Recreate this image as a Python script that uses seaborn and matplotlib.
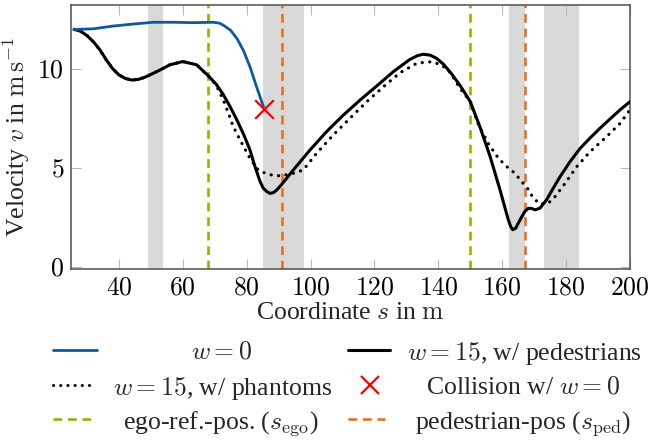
import numpy as np
import pandas as pd
import seaborn as sns
import matplotlib
matplotlib.use("Agg")
import matplotlib.pyplot as plt
from matplotlib.lines import Line2D
from matplotlib.ticker import FuncFormatter

# ---------------- data ----------------
s_w0 = [26, 32, 38.2, 44.5, 50.8, 57, 63.3, 69.6, 71.6, 73, 75, 77, 79, 81, 83.1, 85.4]
v_w0 = [11.97, 12.0, 12.14, 12.24, 12.33, 12.33, 12.31, 12.33, 12.28, 12.15, 11.92, 11.5, 10.9, 10.1, 9.08, 8.0]

s_ped = [26, 28, 30, 32, 34, 36, 38, 40, 42, 44, 46, 48, 51.8, 56, 60, 64.3, 68, 70.5, 72.7, 74.8, 76.9,
         79, 81, 82.6, 84.2, 85.2, 86.3, 87.3, 88.4, 89.4, 91, 94.6, 99.8, 105, 110.3, 115.5,
         120.7, 125.9, 131.1, 133.5, 135.3, 137.5, 139.5, 141.7, 144.2, 147, 150, 153, 156.2,
         159.3, 161.9, 162.7, 163.3, 164.2, 165, 166, 167.1, 168.2, 169.2, 170.3, 171.8, 173.9,
         176, 178.1, 181.2, 184.4, 187.5, 190.6, 193.7, 196.9, 200]
v_ped = [11.97, 11.88, 11.66, 11.35, 10.95, 10.45, 10.0, 9.68, 9.5, 9.42, 9.45, 9.55, 9.84, 10.19, 10.35, 10.19,
         9.63, 9.2, 8.68, 8.08, 7.42, 6.7, 5.91, 5.06, 4.3, 3.97, 3.8, 3.71, 3.75, 3.88, 4.17,
         4.89, 5.89, 6.82, 7.66, 8.41, 9.12, 9.84, 10.46, 10.65, 10.72, 10.67, 10.51, 10.2,
         9.72, 9.1, 8.33, 7.07, 5.57, 3.89, 2.38, 2.02, 1.88, 1.95, 2.2, 2.5, 2.8, 2.96, 2.95,
         2.88, 2.96, 3.39, 3.98, 4.55, 5.3, 5.98, 6.5, 6.99, 7.45, 7.92, 8.33]

s_ph = [26, 28, 30, 32, 34, 36, 38, 40, 42, 44, 46, 48, 51.8, 56, 60, 64.3, 68, 70.5, 72.7, 74.3, 75.8,
        78.5, 81, 83.6, 86.3, 88.9, 91, 94.6, 97.7, 101.9, 107.1, 112.3, 117.6, 122.8, 128,
        133.2, 136.9, 139, 141.6, 143.7, 146.8, 150, 152.5, 155.6, 158.8, 161.4, 164, 166.1,
        167.9, 169.8, 171.8, 174.4, 176.5, 179.7, 183.3, 187.5, 192.7, 196.9, 200]
v_ph = [11.97, 11.88, 11.66, 11.35, 10.95, 10.45, 10.0, 9.68, 9.5, 9.42, 9.45, 9.55, 9.84, 10.19, 10.35, 10.19,
        9.63, 9.15, 8.41, 7.74, 7.07, 6.23, 5.48, 4.89, 4.69, 4.6, 4.6, 4.72, 4.89, 5.73, 6.65,
        7.49, 8.33, 9.08, 9.79, 10.26, 10.34, 10.3, 10.1, 9.8, 9.0, 8.33, 7.2, 6.23, 5.48,
        5.06, 4.72, 4.3, 3.97, 3.46, 3.18, 3.21, 3.54, 4.22, 5.05, 5.81, 6.57, 7.24, 7.92]

collision_s = [85.5]
collision_v = [7.95]

ego_pos = [68, 150]
ped_pos = [91, 167]

span_start = [49.0, 85.0, 162.1, 173.2]
span_end = [53.9, 97.9, 167.1, 184.1]

x_ticks = [40, 60, 80, 100, 120, 140, 160, 180, 200]
y_ticks = [0, 5, 10]

labels = ["$w = 0$", "$w = 15$, w/ pedestrians", "$w = 15$, w/ phantoms",
          "Collision w/ $w = 0$", r"ego-ref.-pos. ($s_\mathrm{ego}$)",
          r"pedestrian-pos ($s_\mathrm{ped}$)"]

# ---------------- style ----------------
BLUE = "#0b5aa0"
GREEN = "#a2ad00"
ORANGE = "#e37222"
RED = "#ff0000"
GRAY = "#d9d9d9"

sns.set_theme(style="ticks")
plt.rcParams["font.family"] = ["Liberation Serif", "DejaVu Serif"]
plt.rcParams["mathtext.fontset"] = "cm"
FS = 18.5

fig = plt.figure(figsize=(6.5, 4.4), dpi=100)
ax = fig.add_axes([71 / 650, 1 - 269 / 440, (630 - 71) / 650, (269 - 5) / 440])

for a, b in zip(span_start, span_end):
    ax.axvspan(a, b, color=GRAY, lw=0, zorder=0)

dash = (0, (3.3, 2.2))
DLW = 1.9
for p in ego_pos:
    ax.axvline(p, color=GREEN, lw=DLW, ls=dash, zorder=1)
for p in ped_pos:
    ax.axvline(p, color=ORANGE, lw=DLW, ls=dash, zorder=1)

df_ph = pd.DataFrame({"s": s_ph, "v": v_ph})
df_ped = pd.DataFrame({"s": s_ped, "v": v_ped})
df_w0 = pd.DataFrame({"s": s_w0, "v": v_w0})

sns.lineplot(data=df_ph, x="s", y="v", ax=ax, color="black", lw=2.3, sort=False,
             estimator=None, linestyle=(0, (0.05, 2.3)), dash_capstyle="round", zorder=2)
sns.lineplot(data=df_ped, x="s", y="v", ax=ax, color="black", lw=2.2, sort=False,
             estimator=None, zorder=3)
sns.lineplot(data=df_w0, x="s", y="v", ax=ax, color=BLUE, lw=2.0, sort=False,
             estimator=None, zorder=4)
sns.scatterplot(x=collision_s, y=collision_v, ax=ax, marker="x", s=180, color=RED,
                linewidth=1.6, zorder=5)

ax.set_xlim(25, 200)
ax.set_ylim(-0.1, 13.2)
ax.set_xticks(x_ticks)
ax.set_yticks(y_ticks)
fmt = FuncFormatter(lambda x, p: f"${x:g}$")
ax.xaxis.set_major_formatter(fmt)
ax.yaxis.set_major_formatter(fmt)
ax.tick_params(direction="in", length=7.5, width=0.8, color="#b8b8b8", labelsize=FS,
               top=True, right=True, pad=5, labelcolor="black")
ax.tick_params(axis="x", pad=6)
for sp in ax.spines.values():
    sp.set_color("#505050")
    sp.set_linewidth(1.1)
ax.set_xlabel(r"Coordinate $s$ in $\mathrm{m}$", fontsize=FS, labelpad=2)
ax.set_ylabel(r"Velocity $v$ in $\mathrm{m\,s^{-1}}$", fontsize=FS, labelpad=4)

# ---------------- legend (below the axes, centred text like pgfplots) ----------------
def fx(px):
    return px / 650

def fy(py):
    return 1 - py / 440

rows = [350, 385, 419]
handles = [
    dict(x0=53, x1=97, y=rows[0], kw=dict(color=BLUE, lw=2.0)),
    dict(x0=348, x1=390, y=rows[0], kw=dict(color="black", lw=2.2)),
    dict(x0=53, x1=95, y=rows[1], kw=dict(color="black", lw=2.2, ls=(0, (0.05, 2.3)),
                                          dash_capstyle="round")),
    None,
    dict(x0=53, x1=92, y=rows[2], kw=dict(color=GREEN, lw=DLW, ls=dash)),
    dict(x0=348, x1=385, y=rows[2], kw=dict(color=ORANGE, lw=DLW, ls=dash)),
]
text_cx = [222, 524, 223, 523, 221, 523]
text_y = [rows[0], rows[0], rows[1], rows[1], rows[2], rows[2]]
for h in handles:
    if h is None:
        continue
    fig.add_artist(Line2D([fx(h["x0"]), fx(h["x1"])], [fy(h["y"]), fy(h["y"])],
                          transform=fig.transFigure, **h["kw"]))
fig.add_artist(Line2D([fx(370)], [fy(rows[1])], transform=fig.transFigure, marker="x",
                      markersize=13, mew=1.6, color=RED, ls="none"))
for lab, cx, ty in zip(labels, text_cx, text_y):
    fig.text(fx(cx), fy(ty), lab, ha="center", va="center_baseline", fontsize=FS)

fig.savefig("out.png", dpi=100)
